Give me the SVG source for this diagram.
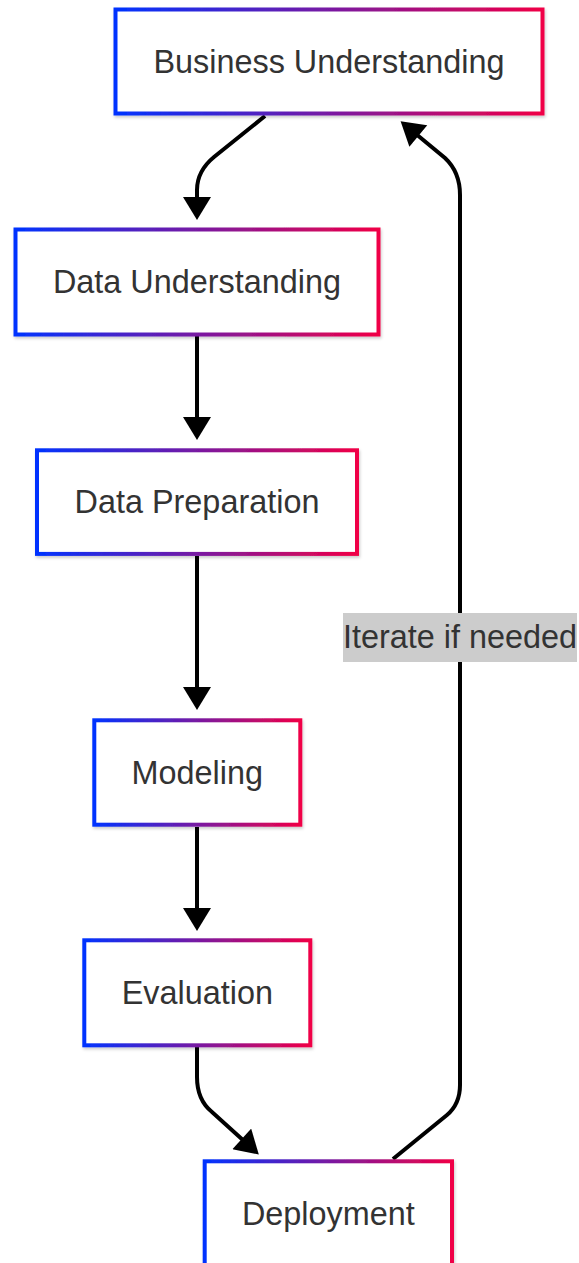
<svg xmlns="http://www.w3.org/2000/svg" width="579" height="1263" viewBox="0 0 579 1263">
  <defs>
    <linearGradient id="edgeGrad" x1="0" y1="0" x2="1" y2="0">
      <stop offset="0" stop-color="#0033ff"/>
      <stop offset="1" stop-color="#f00046"/>
    </linearGradient>
    <filter id="softShadow" x="-10%" y="-10%" width="120%" height="130%">
      <feDropShadow dx="1" dy="2" stdDeviation="1.5" flood-color="#000" flood-opacity="0.2"/>
    </filter>
    <marker id="arrowHead" markerUnits="userSpaceOnUse" markerWidth="24" markerHeight="28" refX="3" refY="14" orient="auto" viewBox="0 0 23 28">
      <path d="M0,0 L23,14 L0,28 Z" fill="#000"/>
    </marker>
  </defs>
  <style>
    .node rect { fill: #ffffff; stroke: url(#edgeGrad); stroke-width: 4; filter: url(#softShadow); }
    .node text { font-family: "Liberation Sans", Arial, sans-serif; font-size: 32.4px; fill: #333333; text-anchor: middle; }
    .edges path { fill: none; stroke: #000; stroke-width: 4; marker-end: url(#arrowHead); }
    .edge-label rect { fill: #cccccc; }
    .edge-label text { font-family: "Liberation Sans", Arial, sans-serif; font-size: 32.4px; fill: #333333; text-anchor: middle; }
  </style>

  <rect width="579" height="1263" fill="#ffffff"/>

  <g class="edges" id="connectors">
    <!-- Business Understanding to Data Understanding -->
    <path d="M265,116 L214,157 Q197,171 197,190 L197,200"/>
    <!-- Data Understanding to Data Preparation -->
    <path d="M197,336 L197,420"/>
    <!-- Data Preparation to Modeling -->
    <path d="M197,556 L197,690"/>
    <!-- Modeling to Evaluation -->
    <path d="M197,827 L197,911"/>
    <!-- Evaluation to Deployment -->
    <path d="M197,1047 L197,1077 Q197,1100 212,1112 L244,1141"/>
    <!-- Deployment back to Business Understanding -->
    <path d="M393,1159 L447,1115 Q460,1104 460,1085 L460,195 Q460,172 445,158 L416,134"/>
  </g>

  <g class="edge-label" id="label-iterate">
    <rect x="343" y="613" width="234" height="49"/>
    <text x="460" y="648">Iterate if needed</text>
  </g>

  <g class="node" id="node-business-understanding">
    <rect x="115.5" y="9.5" width="427" height="104"/>
    <text x="329" y="72.6">Business Understanding</text>
  </g>

  <g class="node" id="node-data-understanding">
    <rect x="15.5" y="229.5" width="363" height="105"/>
    <text x="197" y="292.8">Data Understanding</text>
  </g>

  <g class="node" id="node-data-preparation">
    <rect x="37" y="450.3" width="320" height="103.6"/>
    <text x="197" y="513">Data Preparation</text>
  </g>

  <g class="node" id="node-modeling">
    <rect x="94.3" y="720.3" width="206" height="104.4"/>
    <text x="197.3" y="783.5">Modeling</text>
  </g>

  <g class="node" id="node-evaluation">
    <rect x="84.3" y="940.3" width="226" height="105"/>
    <text x="197.3" y="1003.8">Evaluation</text>
  </g>

  <g class="node" id="node-deployment">
    <rect x="204.7" y="1161.3" width="247.3" height="104.5"/>
    <text x="328.3" y="1224.5">Deployment</text>
  </g>
</svg>
